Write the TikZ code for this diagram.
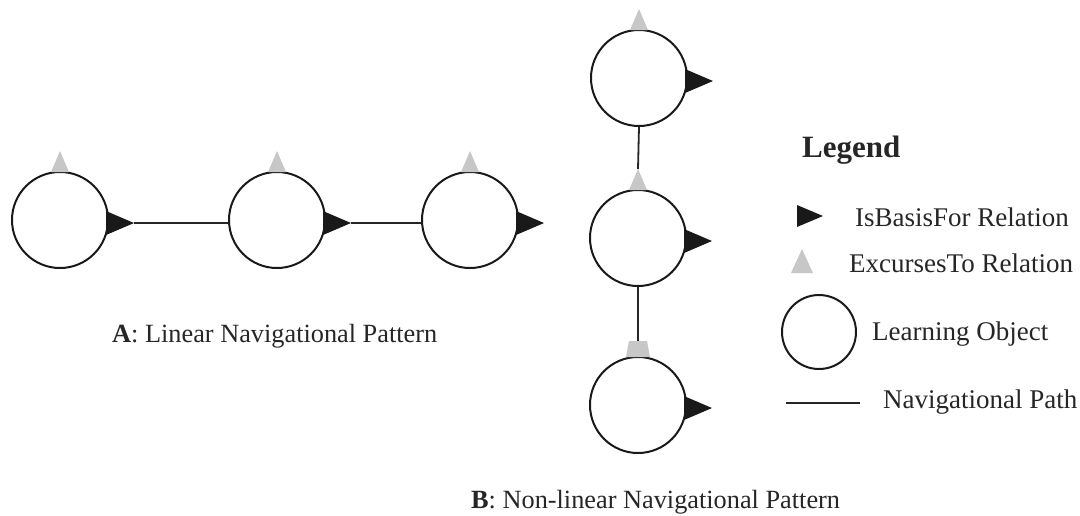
\documentclass[tikz,border=0pt]{standalone}
\usepackage{fontspec}
\setmainfont{Liberation Serif}
\begin{document}
\begin{tikzpicture}[x=1pt,y=-1pt,
  lo/.style={circle,draw=black!90,line width=2pt,minimum size=96pt,inner sep=0pt},
  navpath/.style={line width=1.8pt,draw=black!85},
  isbasis/.style={fill=black!90},
  excurs/.style={fill=black!22},
  lbl/.style={font=\fontsize{27}{32}\selectfont,anchor=base west,inner sep=0pt,text=black!85},
  patlbl/.style={lbl,font=\fontsize{26.3}{31}\selectfont}]
\useasboundingbox (0,0) rectangle (1080,515);
% learning objects
\node[lo] (a1) at (60,220) {};
\node[lo] (a2) at (277,220) {};
\node[lo] (a3) at (470,220) {};
\node[lo] (b1) at (639,78) {};
\node[lo] (b2) at (638,238) {};
\node[lo] (b3) at (638,405) {};
% IsBasisFor triangles
\foreach \n in {a1,a2,a3,b1,b2,b3}{
  \fill[isbasis] ([shift={(-3,-9)}]\n.east) -- ([shift={(25,3)}]\n.east) -- ([shift={(-3,15)}]\n.east) -- cycle;
  \coordinate (\n t) at ([shift={(25,3)}]\n.east);
}
% ExcursesTo triangles
\foreach \n in {a1,a2,a3,b1,b2}{
  \fill[excurs] ([shift={(-9,1)}]\n.north) -- ([shift={(0,-20)}]\n.north) -- ([shift={(9,1)}]\n.north) -- cycle;
}
\fill[excurs] ([shift={(-12,1)}]b3.north) -- ([shift={(-9,-15)}]b3.north) -- ([shift={(9,-15)}]b3.north) -- ([shift={(12,1)}]b3.north) -- cycle;
\coordinate (b2x) at ([shift={(0,-20)}]b2.north);
\coordinate (b3x) at ([shift={(0,-15)}]b3.north);
% navigational paths
\draw[navpath] (a1t) -- (a1t -| a2.west);
\draw[navpath] (a2t) -- (a2t -| a3.west);
\draw[navpath] (b1.south) -- (b2x);
\draw[navpath] (b2.south) -- (b3x);
% labels
\node[patlbl] (la) at (112,342) {\textbf{A}: Linear Navigational Pattern};
\node[patlbl] (lb) at (471,508) {\textbf{B}: Non-linear Navigational Pattern};
% legend
\node[lbl,font=\bfseries\fontsize{31}{36}\selectfont] (leg) at (802,157) {Legend};
\fill[isbasis] (797,205) -- (823,216) -- (797,227) -- cycle;
\node[lbl] (t1) at (855,226) {IsBasisFor Relation};
\fill[excurs] (791,273) -- (802,249) -- (813,273) -- cycle;
\node[lbl] (t2) at (849,272) {ExcursesTo Relation};
\node[lo,minimum size=74pt] (lc) at (819,332) {};
\node[lbl] (t3) at (872,340) {Learning Object};
\coordinate (ls) at (786,403);
\coordinate (le) at (860,403);
\draw[navpath] (ls) -- (le);
\node[lbl] (t4) at (883,408) {Navigational Path};
\end{tikzpicture}
\end{document}
